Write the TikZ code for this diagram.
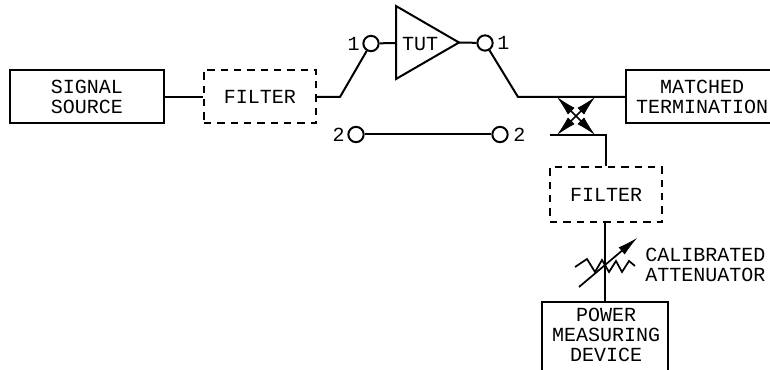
\documentclass[tikz,border=0pt]{standalone}
\usepackage{fontspec}
\setmainfont{Liberation Mono}
\usetikzlibrary{arrows.meta}
\tikzset{
  px/.style={x=0.75pt,y=-0.75pt},
  wire/.style={line width=1.5pt,line join=miter},
  lbl/.style={inner sep=0pt,align=center,font=\fontsize{15}{15}\selectfont},
  solidbox/.style={draw,line width=1.5pt,inner sep=0pt},
  dashbox/.style={draw,line width=1.5pt,inner sep=0pt,dash pattern=on 5.5pt off 4.5pt},
  port/.style={circle,draw,line width=1.5pt,minimum size=11.5pt,inner sep=0pt},
  cplhead/.tip={Latex[length=15pt,width=7pt,fill=black,line width=0.5pt]},
  dbl/.style={line width=1.2pt,cplhead-cplhead},
}
\begin{document}
\begin{tikzpicture}[px]
\useasboundingbox (0,0) rectangle (770,370);
\clip (0,0) rectangle (770,370);
% boxes
\node[solidbox,minimum width=115.5pt,minimum height=39.75pt] (src) at (87,96.5) {};
\node[lbl] at (87,96.5) {SIGNAL\\SOURCE};
\node[dashbox,minimum width=84pt,minimum height=40pt] (f1) at (260,96.5) {};
\node[lbl] at (260,96.5) {FILTER};
\node[solidbox,minimum width=120pt,minimum height=40pt] (term) at (706,96.5) {};
\node[lbl] at (702,96.5) {MATCHED\\TERMINATION};
\node[dashbox,minimum width=84pt,minimum height=41pt] (f2) at (606,194.5) {};
\node[lbl] at (606,194.5) {FILTER};
\node[solidbox,minimum width=95pt,minimum height=60pt,anchor=north] (pwr) at (605,300.5) {};
\node[lbl] at (606,335) {POWER\\MEASURING\\DEVICE};
% amplifier
\node[inner sep=0pt] (tutin) at (396,43) {};
\node[inner sep=0pt] (tutout) at (459,42.5) {};
\draw[wire,line join=miter] (396,6) -- (tutout.center) -- (396,79) -- cycle;
\node[lbl] at (420,44) {TUT};
% ports
\node[port] (a1) at (371,43.5) {};
\node[port] (b1) at (485,43) {};
\node[port] (a2) at (356,134.5) {};
\node[port] (b2) at (500,134.5) {};
\node[lbl,anchor=east] at (360,43.5) {1};
\node[lbl,anchor=west] at (497,43) {1};
\node[lbl,anchor=east] at (345,134.5) {2};
\node[lbl,anchor=west] at (513,134.5) {2};
% coordinates
\coordinate (k1) at (340,97);
\coordinate (k2) at (518,97);
\coordinate (ctl) at (557,97);
\coordinate (ctr) at (595,97);
\coordinate (cbl) at (557,135);
\coordinate (cbr) at (595,135);
\coordinate (cbs) at (550,135);
\coordinate (cbe) at (606,135);
% wires
\draw[wire] (src.east |- 0,97) -- (f1.west |- 0,97);
\draw[wire] (f1.east |- 0,97) -- (k1) -- (a1);
\draw[wire] (a1) -- (tutin.center);
\draw[wire] (tutout.center) -- (b1);
\draw[wire] (b1) -- (k2) -- (term.west |- 0,97);
\draw[wire] (a2) -- (b2);
\draw[wire] (cbs) -- (cbe) -- (cbe |- f2.north);
\draw[wire] (605,222) -- (pwr.north -| 605,0);
% coupler
\draw[dbl] (ctl) -- (cbr);
\draw[dbl] (ctr) -- (cbl);
% attenuator
\coordinate (z0) at (575,267);
\coordinate (z9) at (635,266);
\draw[wire,line width=1.3pt] (z0) -- (587,259) -- (595,272) -- (602,260) -- (609,272) -- (616,261) -- (622,272) -- (629,261) -- (z9);
\coordinate (as) at (579,287);
\coordinate (ae) at (637,238);
\draw[wire,line width=1.3pt,-cplhead] (as) -- (ae);
\node[lbl,anchor=west] at (645,265) {CALIBRATED\\ATTENUATOR};
\end{tikzpicture}
\end{document}
